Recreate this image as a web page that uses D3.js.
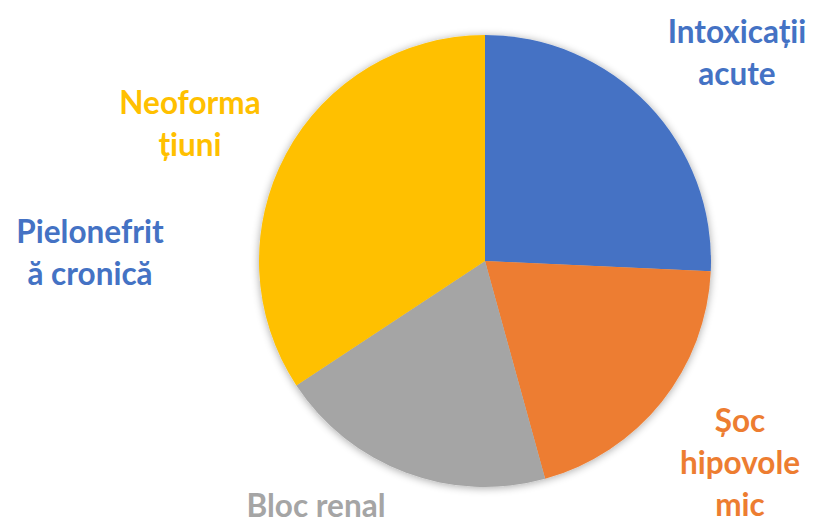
<!DOCTYPE html>
<html>
<head>
<meta charset="utf-8">
<script src="https://cdn.jsdelivr.net/npm/d3@7/dist/d3.min.js"></script>
<style>
  html, body { margin: 0; padding: 0; background: #fff; }
  svg { display: block; }
  text { font-family: Lato, "Open Sans", sans-serif; font-weight: 700; }
</style>
</head>
<body>
<svg id="chart" width="817" height="524"></svg>
<script>
// Cause categories and their case counts
const categories = ["Intoxicații acute", "Șoc hipovolemic", "Bloc renal", "Neoformațiuni", "Pielonefrită cronică"];
const values = [9, 7, 7, 12, 0];
const colors = ["#4472C4", "#ED7D31", "#A5A5A5", "#FFC000", "#4472C4"];
// Wrapped label lines as shown next to the pie
const labelLines = [
  ["Intoxicații", "acute"],
  ["Șoc", "hipovole", "mic"],
  ["Bloc renal"],
  ["Neoforma", "țiuni"],
  ["Pielonefrit", "ă cronică"]
];

const W = 817, H = 524;
const cx = 485, cy = 261, R = 226;
const fontSize = 31.5, lineH = 42;
// Label anchor (center x, first baseline y) per category
const labelAnchor = [
  [737, 43],
  [740, 432],
  [316, 517],
  [190, 114],
  [90, 243]
];

const svg = d3.select("#chart");

const defs = svg.append("defs");
const glow = defs.append("filter").attr("id", "shadow")
  .attr("x", "-20%").attr("y", "-20%").attr("width", "140%").attr("height", "140%");
glow.append("feGaussianBlur").attr("in", "SourceAlpha").attr("stdDeviation", 4).attr("result", "b");
glow.append("feOffset").attr("in", "b").attr("dx", 0).attr("dy", 1).attr("result", "o");
glow.append("feComponentTransfer").attr("in", "o").attr("result", "s")
  .append("feFuncA").attr("type", "linear").attr("slope", 0.35);
const merge = glow.append("feMerge");
merge.append("feMergeNode").attr("in", "s");
merge.append("feMergeNode").attr("in", "SourceGraphic");

const pie = d3.pie().sort(null).value(d => d).startAngle(0).endAngle(2 * Math.PI);
const arc = d3.arc().innerRadius(0).outerRadius(R);
const arcs = pie(values);

const g = svg.append("g").attr("transform", `translate(${cx},${cy})`);
g.append("g").attr("filter", "url(#shadow)")
  .selectAll("path")
  .data(arcs.filter(d => d.value > 0))
  .join("path")
  .attr("d", arc)
  .attr("fill", d => colors[d.index]);

const labels = svg.append("g");
categories.forEach((c, i) => {
  const t = labels.append("text")
    .attr("text-anchor", "middle")
    .attr("font-size", fontSize)
    .attr("fill", colors[i]);
  labelLines[i].forEach((line, j) => {
    t.append("tspan")
      .attr("x", labelAnchor[i][0])
      .attr("y", labelAnchor[i][1] + j * lineH)
      .text(line);
  });
});
</script>
</body>
</html>
